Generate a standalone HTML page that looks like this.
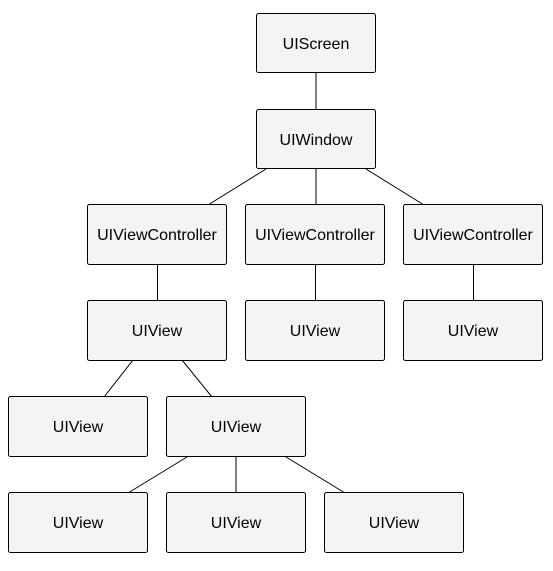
<!DOCTYPE html>
<html><head><style>
body{margin:0;background:#fff;width:553px;height:566px;overflow:hidden}
</style></head><body>
<svg width="553" height="566" xmlns="http://www.w3.org/2000/svg" font-family="Liberation Sans, Arial, sans-serif" font-size="16">
<g stroke="#000" stroke-width="1">
<line x1="316" y1="72" x2="316" y2="109"/>
<line x1="266" y1="169" x2="208" y2="205"/>
<line x1="316" y1="168" x2="316" y2="205"/>
<line x1="366" y1="169" x2="424" y2="205"/>
<line x1="157.5" y1="264" x2="157.5" y2="301"/>
<line x1="315.5" y1="264" x2="315.5" y2="301"/>
<line x1="473.5" y1="264" x2="473.5" y2="301"/>
<line x1="133" y1="360" x2="104" y2="397"/>
<line x1="182" y1="360" x2="212" y2="397"/>
<line x1="187" y1="457" x2="128" y2="493"/>
<line x1="236" y1="456" x2="236" y2="493"/>
<line x1="286" y1="457" x2="345" y2="493"/>
</g>
<g fill="#f4f4f4" stroke="#000" stroke-width="1">
<rect x="256.5" y="13.5" width="119" height="59" rx="2"/>
<rect x="256.5" y="109.5" width="119" height="59" rx="2"/>
<rect x="87.5" y="204.5" width="139" height="60" rx="2"/>
<rect x="245.5" y="204.5" width="139" height="60" rx="2"/>
<rect x="403.5" y="204.5" width="139" height="60" rx="2"/>
<rect x="87.5" y="300.5" width="139" height="60" rx="2"/>
<rect x="245.5" y="300.5" width="139" height="60" rx="2"/>
<rect x="403.5" y="300.5" width="139" height="60" rx="2"/>
<rect x="8.5" y="396.5" width="139" height="60" rx="2"/>
<rect x="166.5" y="396.5" width="139" height="60" rx="2"/>
<rect x="8.5" y="492.5" width="139" height="60" rx="2"/>
<rect x="166.5" y="492.5" width="139" height="60" rx="2"/>
<rect x="324.5" y="492.5" width="139" height="60" rx="2"/>
</g>
<g fill="#000" text-anchor="middle">
<text x="316" y="49">UIScreen</text>
<text x="316" y="145">UIWindow</text>
<text x="157" y="240">UIViewController</text>
<text x="315" y="240">UIViewController</text>
<text x="473" y="240">UIViewController</text>
<text x="157" y="336">UIView</text>
<text x="315" y="336">UIView</text>
<text x="473" y="336">UIView</text>
<text x="78" y="432">UIView</text>
<text x="236" y="432">UIView</text>
<text x="78" y="528">UIView</text>
<text x="236" y="528">UIView</text>
<text x="394" y="528">UIView</text>
</g>
</svg>
</body></html>
